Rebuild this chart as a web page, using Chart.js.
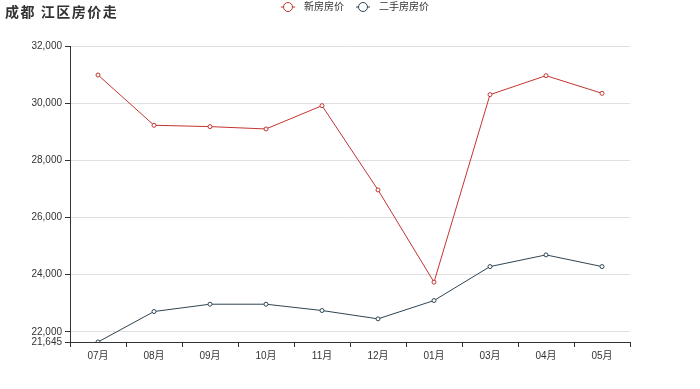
<!DOCTYPE html>
<html>
<head>
<meta charset="utf-8">
<script src="https://cdn.jsdelivr.net/npm/chart.js@4/dist/chart.umd.min.js"></script>
<style>
  html, body { margin: 0; padding: 0; background: #fff; }
  #wrap { width: 700px; height: 389px; position: relative; }
</style>
</head>
<body>
<div id="wrap"><canvas id="line"></canvas></div>
<script>
const months = ['07月', '08月', '09月', '10月', '11月', '12月', '01月', '03月', '04月', '05月'];
const newPrice = [30986, 29227, 29180, 29098, 29913, 26965, 23738, 30298, 30962, 30345];
const usedPrice = [21645, 22711, 22967, 22967, 22746, 22455, 23096, 24284, 24692, 24284];
const yTicks = [21645, 22000, 24000, 26000, 28000, 30000, 32000];

const FONT = "'Liberation Sans', 'Noto Sans CJK SC', sans-serif";

// line+circle icon like the legend in the picture, blank on the left as item gap
function legendIcon(color) {
  const c = document.createElement('canvas');
  c.width = 28; c.height = 12;
  const g = c.getContext('2d');
  g.strokeStyle = color;
  g.lineWidth = 1;
  g.beginPath(); g.moveTo(10, 6); g.lineTo(24, 6); g.stroke();
  g.beginPath(); g.arc(17, 6, 4.5, 0, Math.PI * 2);
  g.fillStyle = '#fff'; g.fill(); g.stroke();
  return c;
}

const titlePlugin = {
  id: 'titleText',
  beforeUpdate(chart) {
    // make the legend box taller so the plot starts lower
    const lg = chart.legend;
    if (lg && !lg._tall) {
      const fit = lg.fit;
      lg.fit = function () { fit.call(this); this.height = 46; };
      lg._tall = true;
    }
  },
  afterDraw(chart) {
    const ctx = chart.ctx;
    ctx.save();
    ctx.font = "bold 14px 'Noto Sans CJK SC', sans-serif";
    ctx.letterSpacing = '1.5px';
    ctx.fillStyle = '#333';
    ctx.textBaseline = 'middle';
    ctx.fillText('成都 江区房价走', 5, 12);
    ctx.restore();
  }
};

const ctx = document.getElementById('line');
new Chart(ctx, {
  type: 'line',
  data: {
    labels: months,
    datasets: [{
      label: '新房房价',
      data: newPrice,
      borderColor: '#c23531',
      backgroundColor: '#fff',
      borderWidth: 1,
      pointRadius: 2,
      pointBorderWidth: 1,
      tension: 0
    }, {
      label: '二手房房价',
      data: usedPrice,
      borderColor: '#2f4554',
      backgroundColor: '#fff',
      borderWidth: 1,
      pointRadius: 2,
      pointBorderWidth: 1,
      tension: 0
    }]
  },
  options: {
    responsive: true,
    maintainAspectRatio: false,
    animation: false,
    layout: { padding: 0 },
    plugins: {
      legend: {
        position: 'top',
        labels: {
          usePointStyle: true,
          pointStyleWidth: 28,
          boxHeight: 12,
          padding: 2,
          color: '#333',
          font: { family: FONT, size: 10 },
          generateLabels(chart) {
            return chart.data.datasets.map((ds, i) => ({
              text: ds.label,
              pointStyle: legendIcon(ds.borderColor),
              fillStyle: '#fff',
              strokeStyle: ds.borderColor,
              lineWidth: 0,
              fontColor: '#333',
              datasetIndex: i,
              hidden: false
            }));
          }
        }
      },
      tooltip: { enabled: false }
    },
    scales: {
      x: {
        offset: true,
        grid: { offset: true, drawOnChartArea: false, drawTicks: true, tickLength: 5, color: '#333' },
        border: { color: '#333' },
        ticks: { color: '#333', font: { family: FONT, size: 10 }, padding: 3, maxRotation: 0 },
        afterFit(s) { s.height = 47; }
      },
      y: {
        min: 21645,
        max: 32000,
        afterBuildTicks(s) { s.ticks = yTicks.map(v => ({ value: v })); },
        grid: {
          color: '#e0e0e0',
          tickLength: 5,
          tickColor: '#333'
        },
        border: { color: '#333' },
        ticks: {
          color: '#333',
          font: { family: FONT, size: 10 },
          padding: 3,
          callback: v => v.toLocaleString('en-US')
        },
        afterFit(s) { s.width = 70; }
      },
      // empty right axis, only keeps the right margin
      yPad: {
        position: 'right',
        grid: { display: false },
        border: { display: false },
        ticks: { display: false },
        afterFit(s) { s.width = 70; }
      }
    }
  },
  plugins: [titlePlugin]
});
</script>
</body>
</html>
